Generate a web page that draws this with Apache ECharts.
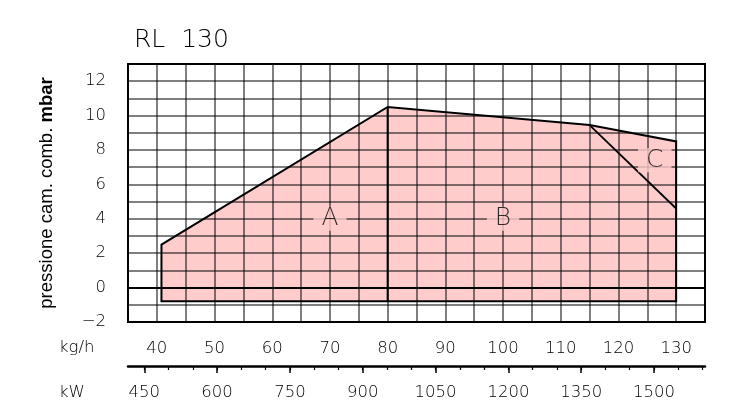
<!DOCTYPE html>
<html><head><meta charset="utf-8">
<script src="https://cdn.jsdelivr.net/npm/echarts@6/dist/echarts.min.js"></script>
<style>html,body{margin:0;padding:0;background:#fff}#c{width:733px;height:415px}</style>
</head><body><div id="c"></div>
<script>
// ---- chart content ----
const chartTitle = 'RL  130';
const yAxisTitle = 'pressione cam. comb. ';
const yAxisUnit = 'mbar';
const flowUnit = 'kg/h';
const powerUnit = 'kW';

// tick labels
const flowTicks = [40, 50, 60, 70, 80, 90, 100, 110, 120, 130];
const pressureTicks = [-2, 0, 2, 4, 6, 8, 10, 12];
const powerMajorTicks = [450, 600, 750, 900, 1050, 1200, 1350, 1500];
const powerMinorTicks = [450, 500, 550, 600, 650, 700, 750, 800, 850, 900, 950, 1000, 1050, 1100, 1150, 1200, 1250, 1300, 1350, 1400, 1450, 1500, 1550, 1600];

// axis extents
const flowMin = 35, flowMax = 135;
const pressureMin = -2, pressureMax = 13;
const powerMin = 416.5, powerMax = 1605;

// working range boundary (kg/h, mbar)
const rangeFlow = [40.8, 40.8, 80, 115, 130, 130];
const rangePressure = [-0.8, 2.5, 10.5, 9.45, 8.5, -0.8];

// zone dividers
const dividerABFlow = [80, 80];
const dividerABPressure = [10.5, -0.8];
const dividerBCFlow = [115, 130];
const dividerBCPressure = [9.45, 4.6];

// zone labels
const zoneNames = ['A', 'B', 'C'];
const zoneFlow = [70, 100, 126.3];
const zonePressure = [4, 4, 7.4];

// ---- styling ----
const plotFont = "'DejaVu Sans'";
const plotWeight = 200;
const gridColor = 'rgba(0,0,0,0.5)';
const fillColor = '#ffcccc';

const chart = echarts.init(document.getElementById('c'), null, {renderer: 'canvas'});

const pairs = (xs, ys) => xs.map((x, i) => [x, ys[i]]);

const option = {
  animation: false,
  backgroundColor: '#fff',
  title: {
    text: chartTitle, left: 129, top: 23,
    textStyle: {fontFamily: plotFont, fontWeight: plotWeight, fontSize: 25, color: '#000'}
  },
  grid: {left: 128, right: 28, top: 64, bottom: 93, show: true, borderColor: '#000', borderWidth: 2, backgroundColor: 'transparent'},
  graphic: [
    {type: 'text', left: 59, top: 339, style: {text: flowUnit, fontFamily: plotFont, fontWeight: plotWeight, fontSize: 16.5, fill: '#000'}},
    {type: 'text', left: 59, top: 384, style: {text: powerUnit, fontFamily: plotFont, fontWeight: plotWeight, fontSize: 16.5, fill: '#000'}}
  ],
  xAxis: [
    {
      type: 'value', position: 'bottom', min: flowMin, max: flowMax, interval: 5, z: 3,
      axisLine: {show: false, onZero: false}, axisTick: {show: false},
      splitLine: {show: true, lineStyle: {color: gridColor, width: 2}},
      axisLabel: {customValues: flowTicks, margin: 18, fontSize: 16.5, fontFamily: plotFont, fontWeight: plotWeight, color: '#000'}
    },
    {
      type: 'value', position: 'bottom', offset: 44, min: powerMin, max: powerMax,
      axisLine: {show: true, onZero: false, lineStyle: {color: '#000', width: 2.5}},
      axisTick: {show: true, customValues: powerMajorTicks, length: 7, lineStyle: {color: '#000', width: 1.5}},
      axisLabel: {customValues: powerMajorTicks, margin: 18, fontSize: 16.5, fontFamily: plotFont, fontWeight: plotWeight, color: '#000',
        formatter: v => String(v)},
      splitLine: {show: false}
    },
    {
      type: 'value', position: 'bottom', offset: 44, min: powerMin, max: powerMax,
      axisLine: {show: false, onZero: false},
      axisTick: {show: true, customValues: powerMinorTicks, length: 4, lineStyle: {color: '#000', width: 1.2}},
      axisLabel: {show: false},
      splitLine: {show: false}
    }
  ],
  yAxis: {
    type: 'value', min: pressureMin, max: pressureMax, interval: 1, z: 3,
    axisLine: {show: false}, axisTick: {show: false},
    splitLine: {show: true, lineStyle: {color: gridColor, width: 2}},
    axisLabel: {
      customValues: pressureTicks, margin: 22, fontSize: 16.5, fontFamily: plotFont, fontWeight: plotWeight, color: '#000',
      formatter: v => v < 0 ? '\u2212' + Math.abs(v) : String(v)
    },
    name: yAxisTitle + '{b|' + yAxisUnit + '}',
    nameLocation: 'middle', nameRotate: 90, nameGap: 72,
    nameTextStyle: {
      fontFamily: "'Liberation Sans'", fontSize: 18.5, color: '#000',
      rich: {b: {fontFamily: "'Liberation Sans'", fontSize: 18.5, fontWeight: 'bold', color: '#000'}}
    }
  },
  series: [
    {
      type: 'custom', xAxisIndex: 0, yAxisIndex: 0, z: 1, silent: true,
      data: pairs(rangeFlow, rangePressure),
      renderItem: (params, api) => {
        if (params.dataIndex !== 0) return null;
        return {
          type: 'polygon',
          shape: {points: rangeFlow.map((x, i) => api.coord([x, rangePressure[i]]))},
          style: {fill: fillColor, stroke: '#000', lineWidth: 2}
        };
      }
    },
    {
      type: 'line', xAxisIndex: 0, z: 4, symbol: 'none', silent: true,
      data: pairs(dividerABFlow, dividerABPressure),
      lineStyle: {color: '#000', width: 2},
      markLine: {
        symbol: 'none', silent: true, label: {show: false},
        lineStyle: {color: '#000', width: 2, type: 'solid'},
        data: [{yAxis: 0}]
      }
    },
    {
      type: 'line', xAxisIndex: 0, z: 4, symbol: 'none', silent: true,
      data: pairs(dividerBCFlow, dividerBCPressure),
      lineStyle: {color: '#000', width: 1.8}
    },
    {
      type: 'scatter', xAxisIndex: 0, z: 5, symbolSize: 0, silent: true,
      data: pairs(zoneFlow, zonePressure),
      label: {
        show: true, position: 'inside', formatter: p => zoneNames[p.dataIndex],
        fontFamily: plotFont, fontWeight: plotWeight, fontSize: 25, lineHeight: 22, color: '#000',
        backgroundColor: fillColor, padding: [1, 8]
      }
    }
  ]
};
chart.setOption(option);
</script>
</body></html>
